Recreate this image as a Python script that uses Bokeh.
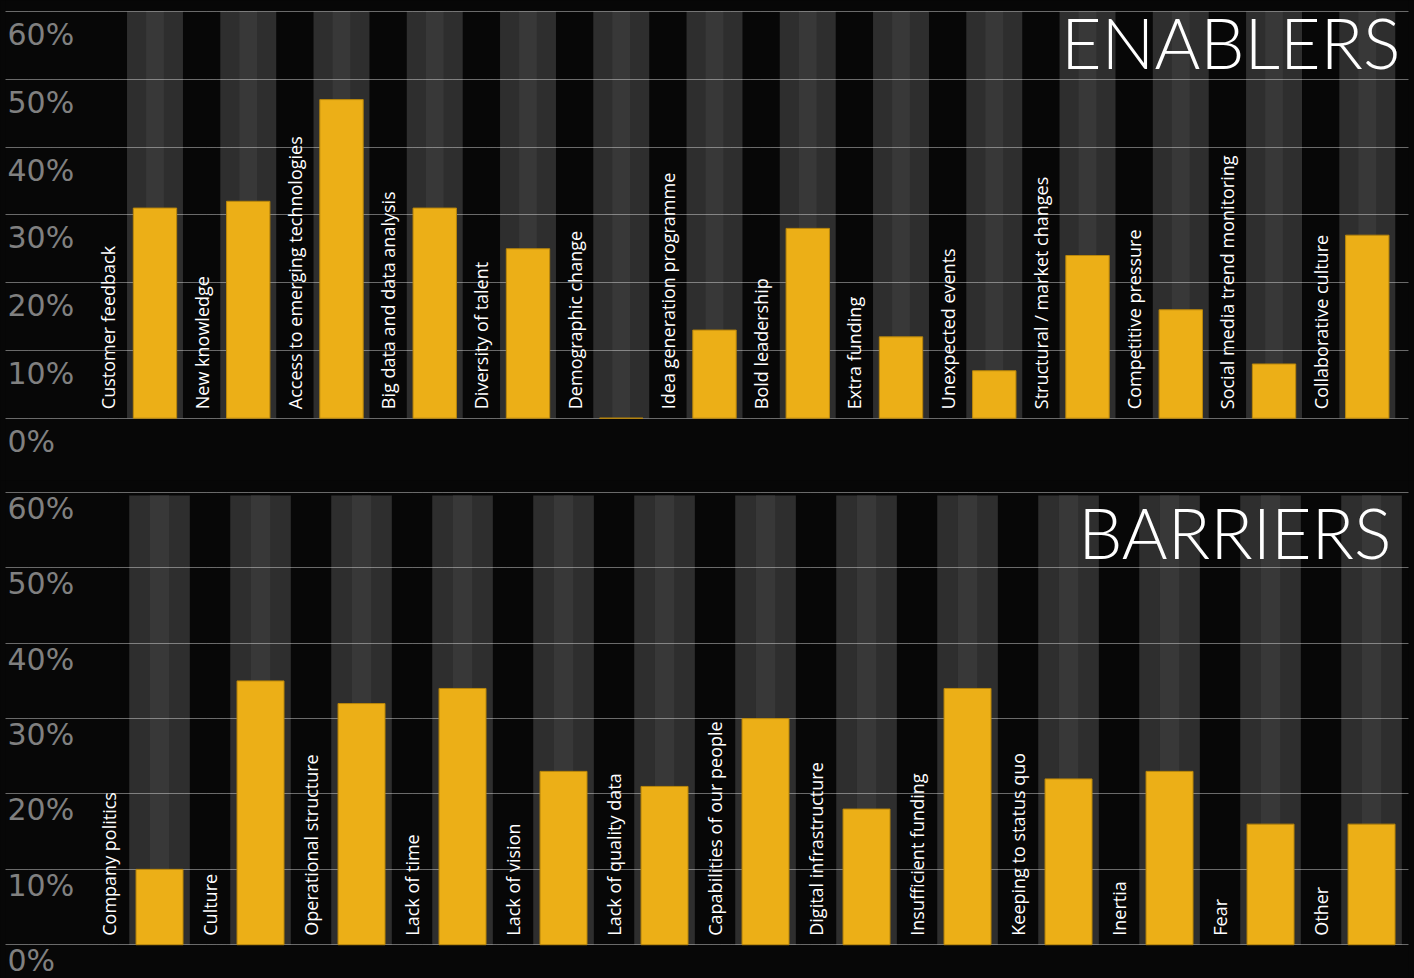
import math
from bokeh.plotting import figure
from bokeh.layouts import column
from bokeh.models import FixedTicker
from bokeh.core.properties import value
from bokeh.embed import file_html
from bokeh.resources import INLINE

# ---------------- data ----------------
enablers = ["Customer feedback", "New knowledge", "Access to emerging technologies",
            "Big data and data analysis", "Diversity of talent", "Demographic change",
            "Idea generation programme", "Bold leadership", "Extra funding",
            "Unexpected events", "Structural / market changes", "Competitive pressure",
            "Social media trend monitoring", "Collaborative culture"]
enabler_values = [31, 32, 47, 31, 25, 0, 13, 28, 12, 7, 24, 16, 8, 27]

barriers = ["Company politics", "Culture", "Operational structure", "Lack of time",
            "Lack of vision", "Lack of quality data", "Capabilities of our people",
            "Digital infrastructure", "Insufficient funding", "Keeping to status quo",
            "Inertia", "Fear", "Other"]
barrier_values = [10, 35, 32, 34, 23, 21, 30, 18, 34, 22, 23, 16, 16]

tick_values = [0, 10, 20, 30, 40, 50, 60]
tick_labels = ["0%", "10%", "20%", "30%", "40%", "50%", "60%"]

BG = "#070707"
BAND = "#2e2e2e"
BAND_IN = "#383838"
GOLD = "#ecaf17"
GOLD_LINE = "#b8860b"
LABEL_FONT = value("Open Sans")
TICK_FONT = value("DejaVu Sans")
TITLE_FONT = value("Lato Light")


def panel(cats, vals, title, height, x_range, y_range, band_top,
          title_off, tick_off):
    p = figure(width=1414, height=height, x_range=x_range, y_range=y_range,
               output_backend="svg", toolbar_location=None,
               background_fill_color=BG, border_fill_color=BG,
               min_border=0, min_border_left=5, min_border_right=6,
               outline_line_color=None)
    p.axis.visible = False
    p.xgrid.visible = False
    p.ygrid.ticker = FixedTicker(ticks=tick_values)
    p.ygrid.grid_line_color = "#f0f0f0"
    p.ygrid.grid_line_dash = "1 1"
    p.ygrid.grid_line_width = 1
    p.ygrid.grid_line_alpha = 0.85

    idx = list(range(len(cats)))
    # background bands (under grid)
    b1 = p.vbar(x=idx, bottom=0, top=band_top, width=0.6, fill_color=BAND,
                line_color=None)
    b2 = p.vbar(x=idx, bottom=0, top=band_top, width=0.19, fill_color=BAND_IN,
                line_color=None)
    b1.level = "image"
    b2.level = "image"

    # bars
    p.vbar(x=idx, bottom=0, top=vals, width=0.465, fill_color=GOLD,
           line_color=GOLD_LINE, line_width=1)

    # rotated category labels
    p.text(x=[i - 0.5 for i in idx], y=[0] * len(idx), text=cats,
           angle=math.pi / 2, text_align="left", text_baseline="middle",
           y_offset=-9, text_color="white", text_font=LABEL_FONT,
           text_font_size="18px")

    # tick labels inside frame, below each gridline
    p.text(x=[x_range[0]] * len(tick_values), y=tick_values, text=tick_labels,
           text_align="left", text_baseline="alphabetic", x_offset=2,
           y_offset=tick_off, text_color="#808080", text_font=TICK_FONT,
           text_font_size="30px")

    # panel title
    p.text(x=[x_range[1]], y=[60], text=[title], text_align="right",
           text_baseline="alphabetic", x_offset=title_off[0],
           y_offset=title_off[1], text_color="white", text_font=TITLE_FONT,
           text_font_size="70px")
    return p


p1 = panel(enablers, enabler_values, "ENABLERS", 480,
           (-1.603, 13.442), (-9.19, 61.62), 60, (-8, 31), 23)
p2 = panel(barriers, barrier_values, "BARRIERS", 498,
           (-1.525, 12.366), (-4.48, 61.59), 59.6, (-17, 40), 16)

layout = column(p1, p2, spacing=0, styles={"background-color": BG})
html = file_html(layout, INLINE)
html = html.replace("<body>", '<body style="background-color:#070707;">')
open("out.html", "w").write(html)
